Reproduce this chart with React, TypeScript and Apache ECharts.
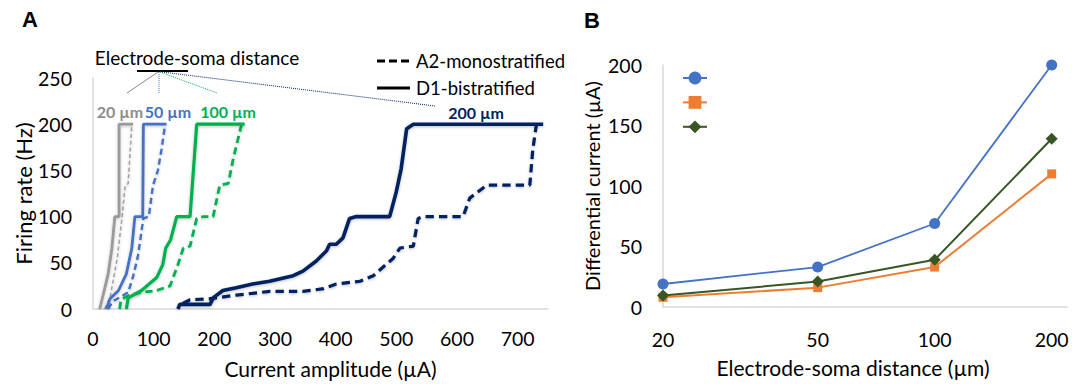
import React, { useEffect, useRef } from "react";
import * as echarts from "echarts";

// ---------- Panel A data: [current amplitude (µA), firing rate (Hz)] ----------
const gray20D1: number[][] = [[11,0],[17,16],[25,38],[31,65],[36,100],[43,100],[43,200],[66,200]];
const gray20A2: number[][] = [[19,0],[28,12],[40,55],[48,100],[53,133],[58,136],[64,200]];
const blue50D1: number[][] = [[22,0],[28,11],[42,20],[55,38],[64,66],[69,100],[82,100],[83,200],[121,200]];
const blue50A2: number[][] = [[25,0],[32,8],[58,18],[66,35],[74,57],[83,98],[92,100],[99,134],[107,150],[113,173],[119,200]];
const green100D1: number[][] = [[55,0],[58,12],[80,20],[105,34],[115,48],[120,66],[128,75],[138,100],[160,100],[171,200],[250,200]];
const green100A2: number[][] = [[44,0],[46,10],[60,15],[80,18],[105,20],[127,25],[140,48],[149,66],[160,68],[171,98],[182,100],[198,100],[209,134],[223,136],[231,162],[239,184],[245,200]];
const navy200D1: number[][] = [[140,0],[143,5],[193,5],[198,12],[214,20],[236,23],[263,27],[291,30],[330,36],[346,41],[368,52],[385,63],[390,70],[401,70],[412,77],[423,98],[434,100],[489,100],[500,127],[508,152],[517,195],[528,200],[742,200]];
const navy200A2: number[][] = [[148,6],[160,10],[191,11],[236,15],[291,19],[346,19],[380,22],[401,27],[440,30],[462,36],[495,55],[506,66],[528,68],[536,98],[544,100],[610,100],[621,120],[649,134],[720,134],[725,173],[731,200]];
const currentTicks: number[] = [0, 100, 200, 300, 400, 500, 600, 700];

// ---------- Panel B data ----------
const distances: number[] = [20, 50, 100, 200];
const seriesBlue: number[] = [19, 33, 69, 200];
const seriesOrange: number[] = [8, 16, 33, 110];
const seriesGreen: number[] = [9.5, 21, 39, 139];
const seriesNames: string[] = ["Series 1", "Series 2", "Series 3"];

const FONT = "Lato";
const GRAY = "#9a9a9a";
const BLUE = "#4472C4";
const GREEN = "#00B050";
const NAVY = "#002060";
const AXIS = "#d9d9d9";

function curve(data: number[][], color: string, width: number, dashed: boolean) {
  return {
    type: "line",
    xAxisIndex: 0,
    yAxisIndex: 0,
    data,
    symbol: "none",
    silent: true,
    lineStyle: {
      color,
      width,
      type: dashed ? [width * 2.6, width * 1.6] : "solid",
      shadowColor: "rgba(0,0,0,0.25)",
      shadowBlur: 3,
      shadowOffsetY: 1,
    },
    z: 3,
  };
}

export default function App() {
  const ref = useRef<HTMLDivElement>(null);
  useEffect(() => {
    if (!ref.current) return;
    const chart = echarts.init(ref.current, undefined, { renderer: "svg" });
    const pair = (vals: number[]) => distances.map((d, i) => [d, vals[i]]);
    const tickLabel = { fontFamily: FONT, fontSize: 19.5, color: "#000" };
    chart.setOption({
      animation: false,
      backgroundColor: "#fff",
      grid: [
        { left: 93, top: 78, width: 455, height: 233, containLabel: false },
        { left: 663, top: 65, width: 404, height: 242, containLabel: false },
      ],
      xAxis: [
        {
          type: "value",
          gridIndex: 0,
          min: 0,
          max: 750,
          interval: 100,
          axisLine: { show: true, lineStyle: { color: AXIS, width: 1.5 } },
          axisTick: { show: false },
          splitLine: { show: false },
          axisLabel: { ...tickLabel, margin: 19, customValues: currentTicks },
          name: "Current amplitude (µA)",
          nameLocation: "middle",
          nameGap: 49,
          nameTextStyle: { fontFamily: FONT, fontSize: 21, color: "#000", padding: [0, 0, 0, 20] },
        },
        {
          type: "log",
          logBase: 10,
          gridIndex: 1,
          min: 20,
          max: 219,
          axisLine: { show: true, lineStyle: { color: AXIS, width: 1.5 } },
          axisTick: { show: false },
          splitLine: { show: false },
          axisLabel: {
            ...tickLabel,
            margin: 22,
            customValues: distances,
            formatter: (v: number) => String(Math.round(v)),
          },
          name: "Electrode-soma distance (µm)",
          nameLocation: "middle",
          nameGap: 50,
          nameTextStyle: { fontFamily: FONT, fontSize: 21, color: "#000", padding: [0, 24, 0, 0] },
        },
      ],
      yAxis: [
        {
          type: "value",
          gridIndex: 0,
          min: 0,
          max: 250,
          interval: 50,
          axisLine: { show: true, lineStyle: { color: AXIS, width: 1.5 } },
          axisTick: { show: false },
          splitLine: { show: false },
          axisLabel: { ...tickLabel, margin: 21 },
          name: "Firing rate (Hz)",
          nameLocation: "middle",
          nameGap: 59,
          nameTextStyle: { fontFamily: FONT, fontSize: 22, color: "#000" },
        },
        {
          type: "value",
          gridIndex: 1,
          min: 0,
          max: 200,
          interval: 50,
          axisLine: { show: true, lineStyle: { color: AXIS, width: 1.5 } },
          axisTick: { show: false },
          splitLine: { show: false },
          axisLabel: { ...tickLabel, margin: 21 },
          name: "Differential current (µA)",
          nameLocation: "middle",
          nameGap: 61,
          nameTextStyle: { fontFamily: FONT, fontSize: 20, color: "#000" },
        },
      ],
      legend: {
        data: seriesNames,
        orient: "vertical",
        left: 677,
        top: 65,
        itemWidth: 24,
        itemHeight: 16,
        itemGap: 10,
        formatter: () => "",
        textStyle: { fontSize: 1 },
        selectedMode: false,
      },
      series: [
        curve(gray20A2, "#a6a6a6", 1.6, true),
        curve(gray20D1, GRAY, 2.8, false),
        curve(blue50A2, BLUE, 2.4, true),
        curve(blue50D1, BLUE, 2.8, false),
        curve(green100A2, GREEN, 2.8, true),
        curve(green100D1, GREEN, 3.2, false),
        curve(navy200A2, NAVY, 3.2, true),
        curve(navy200D1, NAVY, 3.6, false),
        {
          name: seriesNames[0],
          type: "line",
          xAxisIndex: 1,
          yAxisIndex: 1,
          data: pair(seriesBlue),
          symbol: "circle",
          symbolSize: 11,
          itemStyle: { color: BLUE },
          lineStyle: { color: BLUE, width: 1.8 },
        },
        {
          name: seriesNames[1],
          type: "line",
          xAxisIndex: 1,
          yAxisIndex: 1,
          data: pair(seriesOrange),
          symbol: "rect",
          symbolSize: 9,
          itemStyle: { color: "#ED7D31" },
          lineStyle: { color: "#ED7D31", width: 2 },
        },
        {
          name: seriesNames[2],
          type: "line",
          xAxisIndex: 1,
          yAxisIndex: 1,
          data: pair(seriesGreen),
          symbol: "diamond",
          symbolSize: 12,
          itemStyle: { color: "#375623" },
          lineStyle: { color: "#375623", width: 2 },
        },
      ],
      graphic: [
        { type: "text", left: 22, top: 8, style: { text: "A", font: `bold 22px "Liberation Sans"`, fill: "#000" } },
        { type: "text", left: 584, top: 9, style: { text: "B", font: `bold 22px "Liberation Sans"`, fill: "#000" } },
        {
          type: "text",
          x: 197,
          y: 57,
          style: { text: "Electrode-soma distance", font: `19px ${FONT}`, fill: "#000", align: "center", verticalAlign: "middle" },
        },
        { type: "line", shape: { x1: 137, y1: 71, x2: 188, y2: 71 }, style: { stroke: "#000", lineWidth: 2 } },
        { type: "line", shape: { x1: 158, y1: 72, x2: 127, y2: 93 }, style: { stroke: "#8a8a8a", lineWidth: 1 } },
        { type: "line", shape: { x1: 159, y1: 72, x2: 159, y2: 93 }, style: { stroke: BLUE, lineWidth: 1, lineDash: [1, 1] } },
        { type: "line", shape: { x1: 160, y1: 72, x2: 217, y2: 93 }, style: { stroke: GREEN, lineWidth: 1, lineDash: [1, 1] } },
        { type: "line", shape: { x1: 162, y1: 72, x2: 435, y2: 106 }, style: { stroke: NAVY, lineWidth: 1, lineDash: [1, 1] } },
        { type: "text", x: 120, y: 111, style: { text: "20 µm", font: `bold 16px ${FONT}`, fill: "#8c8c8c", align: "center", verticalAlign: "middle" } },
        { type: "text", x: 168, y: 111, style: { text: "50 µm", font: `bold 16px ${FONT}`, fill: BLUE, align: "center", verticalAlign: "middle" } },
        { type: "text", x: 228, y: 111, style: { text: "100 µm", font: `bold 16px ${FONT}`, fill: GREEN, align: "center", verticalAlign: "middle" } },
        { type: "text", x: 476, y: 112, style: { text: "200 µm", font: `bold 16px ${FONT}`, fill: NAVY, align: "center", verticalAlign: "middle" } },
        { type: "line", shape: { x1: 377, y1: 61, x2: 410, y2: 61 }, style: { stroke: "#000", lineWidth: 3, lineDash: [8, 4] } },
        { type: "line", shape: { x1: 377, y1: 88, x2: 410, y2: 88 }, style: { stroke: "#000", lineWidth: 3 } },
        { type: "text", x: 416, y: 61, style: { text: "A2-monostratified", font: `18.5px ${FONT}`, fill: "#000", align: "left", verticalAlign: "middle" } },
        { type: "text", x: 416, y: 88, style: { text: "D1-bistratified", font: `18.5px ${FONT}`, fill: "#000", align: "left", verticalAlign: "middle" } },
      ],
    });
    return () => chart.dispose();
  }, []);
  return (
    <div
      ref={ref}
      style={{ position: "absolute", left: 0, top: 0, width: 1085, height: 384 }}
    />
  );
}
